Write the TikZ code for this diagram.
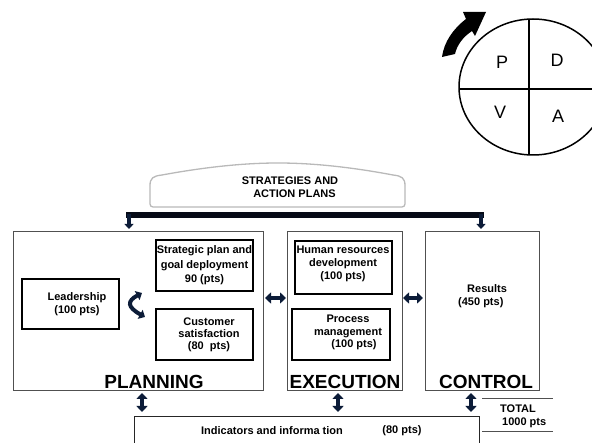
\documentclass[tikz,border=0pt]{standalone}
\usepackage{fontspec}
\setmainfont{Liberation Sans}
\usetikzlibrary{arrows.meta}
\definecolor{arrowblue}{RGB}{12,28,56}
\definecolor{barblack}{RGB}{6,10,22}
\definecolor{frame}{RGB}{80,80,80}
\begin{document}
\begin{tikzpicture}[x=1pt,y=-1pt,
  txt/.style={font=\bfseries\fontsize{11}{13}\selectfont, align=center, inner sep=0pt},
  big/.style={font=\bfseries\fontsize{19}{21}\selectfont, inner sep=0pt},
  letter/.style={font=\fontsize{18}{20}\selectfont, inner sep=0pt},
  phase/.style={draw=frame, line width=1pt, anchor=north west, inner sep=0pt, outer sep=0pt},
  item/.style={draw=black, line width=1.2pt, anchor=north west, inner sep=0pt, outer sep=0pt},
  dbl/.style={draw=arrowblue, line width=4.4pt,
    {Triangle[length=6pt,width=11pt]}-{Triangle[length=6pt,width=11pt]}},
  down/.style={draw=arrowblue, line width=3.2pt, -{Triangle[length=5pt,width=9pt]}}
]
\useasboundingbox (0,0) rectangle (592,443);
\clip (0,0) rectangle (592,443);

% PDCA wheel
\draw[line width=1.5pt] (533,87) ellipse [x radius=74pt, y radius=68pt];
\draw[line width=2.6pt] (529,19) -- (529,155);
\draw[line width=2.6pt] (459,89) -- (610,89);
\node[letter] (p) at (502,62) {P};
\node[letter] (d) at (557,60) {D};
\node[letter] (v) at (500,112) {V};
\node[letter] (a) at (558,116) {A};
% turning arrow
\fill (442,57) .. controls (444,42) and (453,29) .. (466,19)
  -- (463,12) -- (486,12) -- (475,36) -- (472,31)
  .. controls (463,37) and (457,45) .. (455,54) -- cycle;

% strategies banner
\draw[draw=gray!55, line width=1.3pt, rounded corners=3pt]
  (150,186) -- (150,207) -- (405,207) -- (405,186);
\draw[draw=gray!55, line width=1.3pt]
  (150,186) .. controls (150,178) and (153,176) .. (162,175)
  .. controls (200,168) and (240,163) .. (278,163)
  .. controls (316,163) and (356,168) .. (393,175)
  .. controls (402,176) and (405,178) .. (405,186);
\node[txt] (strat) at (290,187.5) {STRATEGIES AND\\\hspace*{9pt}ACTION PLANS};

% distribution bar
\coordinate (barL) at (126,215);
\coordinate (barR) at (484,215);
\coordinate (dropL) at (129,214);
\coordinate (dropLend) at (129,229);
\coordinate (dropR) at (481,214);
\coordinate (dropRend) at (481,229);
\draw[barblack, line width=6pt] (barL) -- (barR);
\draw[down] (dropL) -- (dropLend);
\draw[down] (dropR) -- (dropRend);

% phase frames
\node[phase, minimum width=250pt, minimum height=159pt] (plan) at (13,232) {};
\node[phase, minimum width=115pt, minimum height=159pt] (exec) at (287,232) {};
\node[phase, minimum width=114pt, minimum height=159pt] (ctrl) at (425,232) {};

% planning items
\node[item, minimum width=97pt, minimum height=50pt] (lead) at (22,279) {};
\node[item, minimum width=97pt, minimum height=51pt] (strp) at (156,240) {};
\node[item, minimum width=97pt, minimum height=51pt] (cust) at (156,309) {};
\node[txt] (leadtxt) at (77,304) {Leadership\\(100 pts)};
\node[txt, font=\bfseries\fontsize{11}{14.5}\selectfont] (strptxt) at (204.5,265.5)
  {Strategic plan and\\goal deployment\\90 (pts)};
\node[txt, font=\bfseries\fontsize{11}{12}\selectfont] (custtxt) at (209,335)
  {Customer\\satisfaction\\(80\ \ pts)};
\node[big] (plantxt) at (154,382) {PLANNING};

% execution items
\node[item, minimum width=97pt, minimum height=53pt] (hr) at (295,241) {};
\node[item, minimum width=98pt, minimum height=51pt] (proc) at (292,309) {};
\node[txt] (hrtxt) at (343,264) {Human resources\\development\\(100 pts)};
\node[txt, font=\bfseries\fontsize{11}{12.5}\selectfont] (proctxt) at (348,332.5)
  {Process\\management\\\hspace*{12pt}(100 pts)};
\node[big] (exectxt) at (345,382) {EXECUTION};

% control items
\node[txt, align=left, anchor=west] (restxt) at (458,296) {\hspace*{9pt}Results\\(450 pts)};
\node[big] (ctrltxt) at (486,382) {CONTROL};

% links inside and between phases
\coordinate (lk1) at (142,293);
\coordinate (lk2) at (145,317);
\draw[draw=arrowblue, line width=4pt,
  {Triangle[length=5.5pt,width=10pt]}-{Triangle[length=5.5pt,width=10pt]}]
  (lk1) .. controls (127,301) and (127,307) .. (lk2);
\coordinate (pe1) at (265,298);
\coordinate (pe2) at (286,298);
\coordinate (ec1) at (403,298);
\coordinate (ec2) at (423,298);
\draw[dbl] (pe1) -- (pe2);
\draw[dbl] (ec1) -- (ec2);

% indicators
\node[draw=black!85, line width=1.3pt, anchor=north west, inner sep=0pt,
  minimum width=345pt, minimum height=40pt] (ind) at (134,416) {};
\node[txt] (indtxt) at (272,431) {Indicators and informa tion};
\node[txt] (indpts) at (402,431) {(80 pts)};
\coordinate (v1a) at (142,393);
\coordinate (v1b) at (142,412);
\coordinate (v2a) at (338,393);
\coordinate (v2b) at (338,412);
\coordinate (v3a) at (471,393);
\coordinate (v3b) at (471,412);
\draw[dbl, line width=4pt] (v1a) -- (v1b);
\draw[dbl, line width=4pt] (v2a) -- (v2b);
\draw[dbl, line width=4pt] (v3a) -- (v3b);

% total
\coordinate (t1a) at (482,399);
\coordinate (t1b) at (553,399);
\coordinate (t2a) at (482,432);
\coordinate (t2b) at (553,432);
\draw[frame, line width=1pt] (t1a) -- (t1b);
\draw[frame, line width=1pt] (t2a) -- (t2b);
\node[txt, align=left, anchor=west] (total) at (500,416) {TOTAL\\\hspace*{2pt}1000 pts};
\end{tikzpicture}
\end{document}
